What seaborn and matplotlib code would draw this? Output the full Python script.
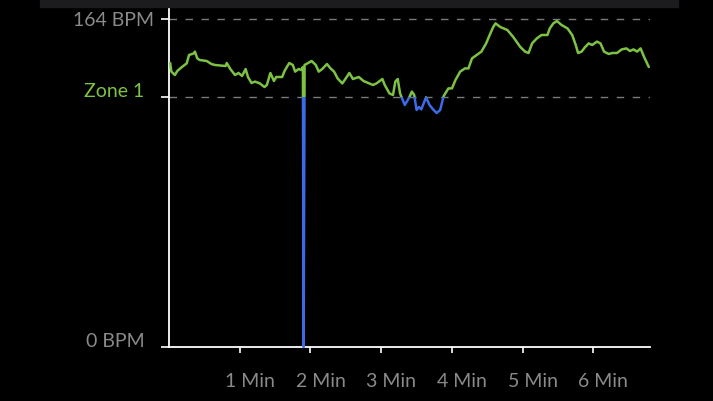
import pandas as pd  # Used for data manipulation.
import seaborn as sns  # Used for statistical data visualization.
import matplotlib.pyplot as plt  # Used for creating plots and graphs.
from matplotlib.patches import Rectangle
from matplotlib.transforms import ScaledTranslation

# heart rate samples (seconds, BPM)
seconds = [1, 2, 5, 7, 11, 15, 17, 21, 22, 24, 26, 32, 36, 39, 48, 49, 52, 56, 59, 62,
           65, 67, 70, 73, 77, 81, 83, 86, 89, 91, 96, 98, 102, 105, 107, 110, 112, 113.6,
           114.2, 115, 121, 124.5, 127, 130, 134, 137, 140, 143, 147, 149, 153, 156, 161,
           165, 169, 173, 176, 181, 183, 187, 190, 192, 194, 196, 200, 204, 206, 208, 210,
           212, 214, 218, 221, 224, 227, 230, 233, 237, 240, 243, 247, 251, 254, 257, 261,
           265, 269, 272, 275, 277, 281, 287, 292, 298, 302, 305, 308, 312, 316, 321, 323,
           326, 329, 333, 338, 342, 345, 347, 350, 353, 356, 359, 363, 366, 369, 373, 376,
           380, 384, 388, 391, 394, 397, 400, 403, 407]
bpm = [142, 137.7, 136, 138, 140, 141.8, 146, 146.8, 147.7, 144.3, 143.5, 143, 141.5, 141,
       140.5, 142, 139, 136, 137, 135.5, 139, 135, 132, 132.7, 131.8, 130, 131, 137, 133,
       135, 135, 138, 142, 141, 137.7, 139, 138.5, 140,
       0, 141, 143, 141, 137.7, 139, 141.5, 139.3, 137.7, 134.3, 131.8, 133.5, 137, 134, 135,
       133, 132, 131, 131.8, 134, 131, 126.8, 126, 132.7, 134, 126.8, 121, 125, 127.7, 126, 118.5,
       120, 118.8, 124.8, 121, 118.8, 117, 118.5, 125.5, 129.3, 129.3, 133.5, 137.7, 139.3, 139.3, 144.3, 146,
       147.7, 151.8, 156, 160, 161.8, 160, 158.5, 155, 150, 147.7, 147, 151.8, 154.3, 156, 156, 159.3,
       161.8, 163, 161, 159.3, 156, 151, 147, 147.7, 150, 151.8, 151, 152.7, 151.8, 147.7, 146.5, 147,
       147, 148.8, 149.3, 148, 148.8, 147.7, 149.3, 145, 140]

zone_1 = 125
max_bpm = 164
tick_minutes = [1, 2, 3, 4, 5, 6]

green = '#7dc243'
blue = '#3d6ae8'
grey = '#8a8a8a'

sns.set_style("dark", rc={"axes.facecolor": "black", "figure.facecolor": "black",
                          "axes.grid": False})
plt.rcParams['font.family'] = ['Lato', 'DejaVu Sans']

fig, ax = plt.subplots(figsize=(7.13, 4.01), dpi=100)
ax.set_position([169 / 713, 1 - 347 / 401, 481 / 713, 340 / 401])

# dark strip at the top of the screen
fig.patches.append(Rectangle((40 / 713, 1 - 7 / 401), 638 / 713, 7 / 401,
                             transform=fig.transFigure, color='#1c1c1e', zorder=0))

# zone reference lines
for level in [max_bpm, zone_1]:
    ax.axhline(level, color='#7a7a7a', lw=1, ls=(0, (5.4, 6.1)), zorder=1)

# heart rate line: green above zone 1, blue below
df = pd.DataFrame({'sec': seconds, 'bpm': bpm})
for color, lo, hi in [(green, zone_1, 250), (blue, -50, zone_1)]:
    n = len(ax.lines)
    sns.lineplot(data=df, x='sec', y='bpm', color=color, lw=1.8, ax=ax,
                 estimator=None, sort=False, zorder=3)
    clip = Rectangle((-100, lo), 1000, hi - lo, transform=ax.transData)
    ax.lines[n].set_clip_path(clip)

ax.set_xlim(0, 408)
ax.set_ylim(0, 170)
ax.set_xlabel('')
ax.set_ylabel('')

ax.set_xticks([60 * m for m in tick_minutes], [f'{m} Min' for m in tick_minutes])
ax.set_yticks([0, zone_1, max_bpm], ['0 BPM', 'Zone 1', '164 BPM'])

ax.tick_params(axis='x', bottom=True, direction='out', length=4, width=1.2,
               color='white', pad=15, labelsize=14, labelcolor=grey)
ax.tick_params(axis='y', left=True, direction='out', length=5.5, width=1.2,
               color='white', pad=5, labelsize=14, labelcolor=grey)

# x labels sit a little right of their ticks
shift = ScaledTranslation(10 / 100, 0, fig.dpi_scale_trans)
for label in ax.get_xticklabels():
    label.set_transform(label.get_transform() + shift)

back = ScaledTranslation(-10 / 100, 0, fig.dpi_scale_trans)
for label in ax.get_yticklabels():
    if label.get_text() != '164 BPM':
        label.set_verticalalignment('baseline')
        label.set_transform(label.get_transform() + back)
    if label.get_text() == 'Zone 1':
        label.set_color(green)

sns.despine(ax=ax, top=True, right=True)
for side in ['left', 'bottom']:
    ax.spines[side].set_color('white')
    ax.spines[side].set_linewidth(1.3)

plt.savefig('out.png', dpi=100, facecolor='black')
